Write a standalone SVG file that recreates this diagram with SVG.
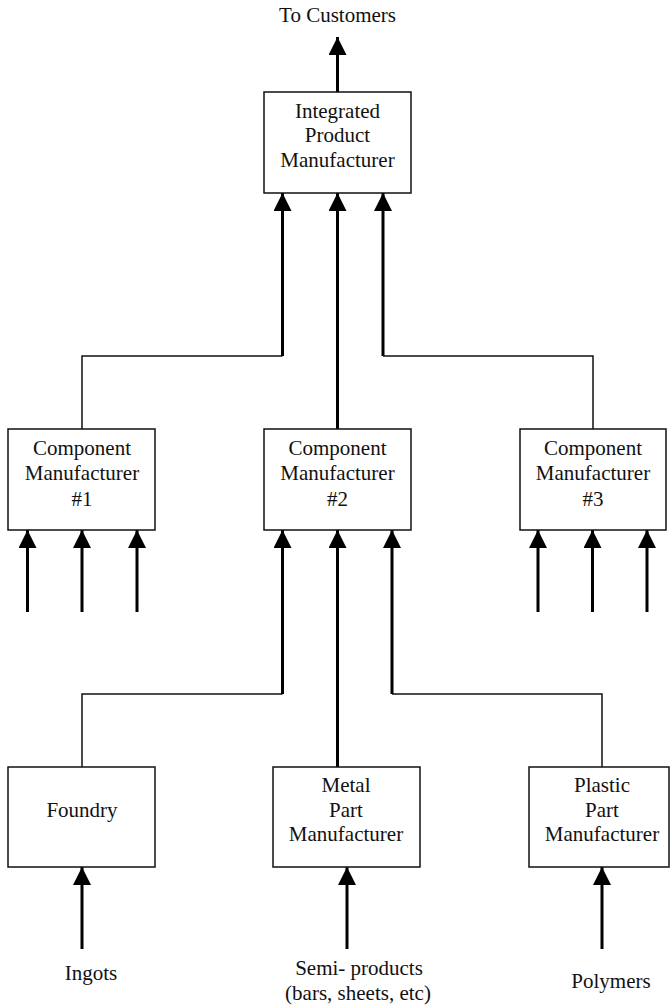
<svg xmlns="http://www.w3.org/2000/svg" width="670" height="1005" viewBox="0 0 670 1005">
<style>
.box{fill:#fff;stroke:#111;stroke-width:1.5}
.t{font-family:"Liberation Serif","Times New Roman",serif;font-size:21px;fill:#111;text-anchor:middle}
.thick{fill:none;stroke:#000;stroke-width:3}
.thin{fill:none;stroke:#111;stroke-width:1.5}
</style>
<defs>
<marker id="ah" markerUnits="userSpaceOnUse" markerWidth="18" markerHeight="18" viewBox="0 0 16 16" refX="16" refY="8" orient="auto">
<path d="M0,0 L16,8 L0,16 Z" fill="#000"/>
</marker>
</defs>
<rect width="670" height="1005" fill="#fff"/>
<g id="connectors">
<line class="thick" x1="337.5" y1="92" x2="337.5" y2="37" marker-end="url(#ah)"/>
<polyline class="thin" points="82,429 82,356 282.5,356"/>
<line class="thick" x1="282.5" y1="356" x2="282.5" y2="193" marker-end="url(#ah)"/>
<line class="thick" x1="337.5" y1="429" x2="337.5" y2="193" marker-end="url(#ah)"/>
<polyline class="thin" points="593,429 593,356 383,356"/>
<line class="thick" x1="383" y1="356" x2="383" y2="193" marker-end="url(#ah)"/>
<line class="thick" x1="27.5" y1="612" x2="27.5" y2="530" marker-end="url(#ah)"/>
<line class="thick" x1="82" y1="612" x2="82" y2="530" marker-end="url(#ah)"/>
<line class="thick" x1="137" y1="612" x2="137" y2="530" marker-end="url(#ah)"/>
<line class="thick" x1="538" y1="612" x2="538" y2="530" marker-end="url(#ah)"/>
<line class="thick" x1="592.5" y1="612" x2="592.5" y2="530" marker-end="url(#ah)"/>
<line class="thick" x1="647" y1="612" x2="647" y2="530" marker-end="url(#ah)"/>
<polyline class="thin" points="82,767 82,694 282.5,694"/>
<line class="thick" x1="282.5" y1="694" x2="282.5" y2="530" marker-end="url(#ah)"/>
<line class="thick" x1="337.5" y1="767" x2="337.5" y2="530" marker-end="url(#ah)"/>
<polyline class="thin" points="602,767 602,694 392,694"/>
<line class="thick" x1="392" y1="694" x2="392" y2="530" marker-end="url(#ah)"/>
<line class="thick" x1="82" y1="949" x2="82" y2="867" marker-end="url(#ah)"/>
<line class="thick" x1="347" y1="949" x2="347" y2="867" marker-end="url(#ah)"/>
<line class="thick" x1="602" y1="949" x2="602" y2="867" marker-end="url(#ah)"/>
</g>
<g id="to-customers"><text class="t" x="337.5" y="22">To Customers</text></g>
<g id="integrated">
<rect class="box" x="264" y="92" width="147" height="101"/>
<text class="t" x="337.5" y="118">Integrated</text>
<text class="t" x="337.5" y="142">Product</text>
<text class="t" x="337.5" y="167">Manufacturer</text>
</g>
<g id="comp1">
<rect class="box" x="8" y="429" width="147" height="101"/>
<text class="t" x="82" y="455">Component</text>
<text class="t" x="82" y="480">Manufacturer</text>
<text class="t" x="82" y="506">#1</text>
</g>
<g id="comp2">
<rect class="box" x="264" y="429" width="147" height="101"/>
<text class="t" x="337.5" y="455">Component</text>
<text class="t" x="337.5" y="480">Manufacturer</text>
<text class="t" x="337.5" y="506">#2</text>
</g>
<g id="comp3">
<rect class="box" x="520" y="429" width="146" height="101"/>
<text class="t" x="593" y="455">Component</text>
<text class="t" x="593" y="480">Manufacturer</text>
<text class="t" x="593" y="506">#3</text>
</g>
<g id="foundry">
<rect class="box" x="8" y="767" width="147" height="100"/>
<text class="t" x="82" y="817">Foundry</text>
</g>
<g id="metal">
<rect class="box" x="273" y="767" width="147" height="100"/>
<text class="t" x="346" y="792">Metal</text>
<text class="t" x="346" y="817">Part</text>
<text class="t" x="346" y="841">Manufacturer</text>
</g>
<g id="plastic">
<rect class="box" x="529" y="767" width="140" height="100"/>
<text class="t" x="602" y="792">Plastic</text>
<text class="t" x="602" y="817">Part</text>
<text class="t" x="602" y="841">Manufacturer</text>
</g>
<g id="ingots"><text class="t" x="91" y="980">Ingots</text></g>
<g id="semi">
<text class="t" x="359" y="975">Semi- products</text>
<text class="t" x="358" y="1000">(bars, sheets, etc)</text>
</g>
<g id="polymers"><text class="t" x="611" y="988">Polymers</text></g>
</svg>
